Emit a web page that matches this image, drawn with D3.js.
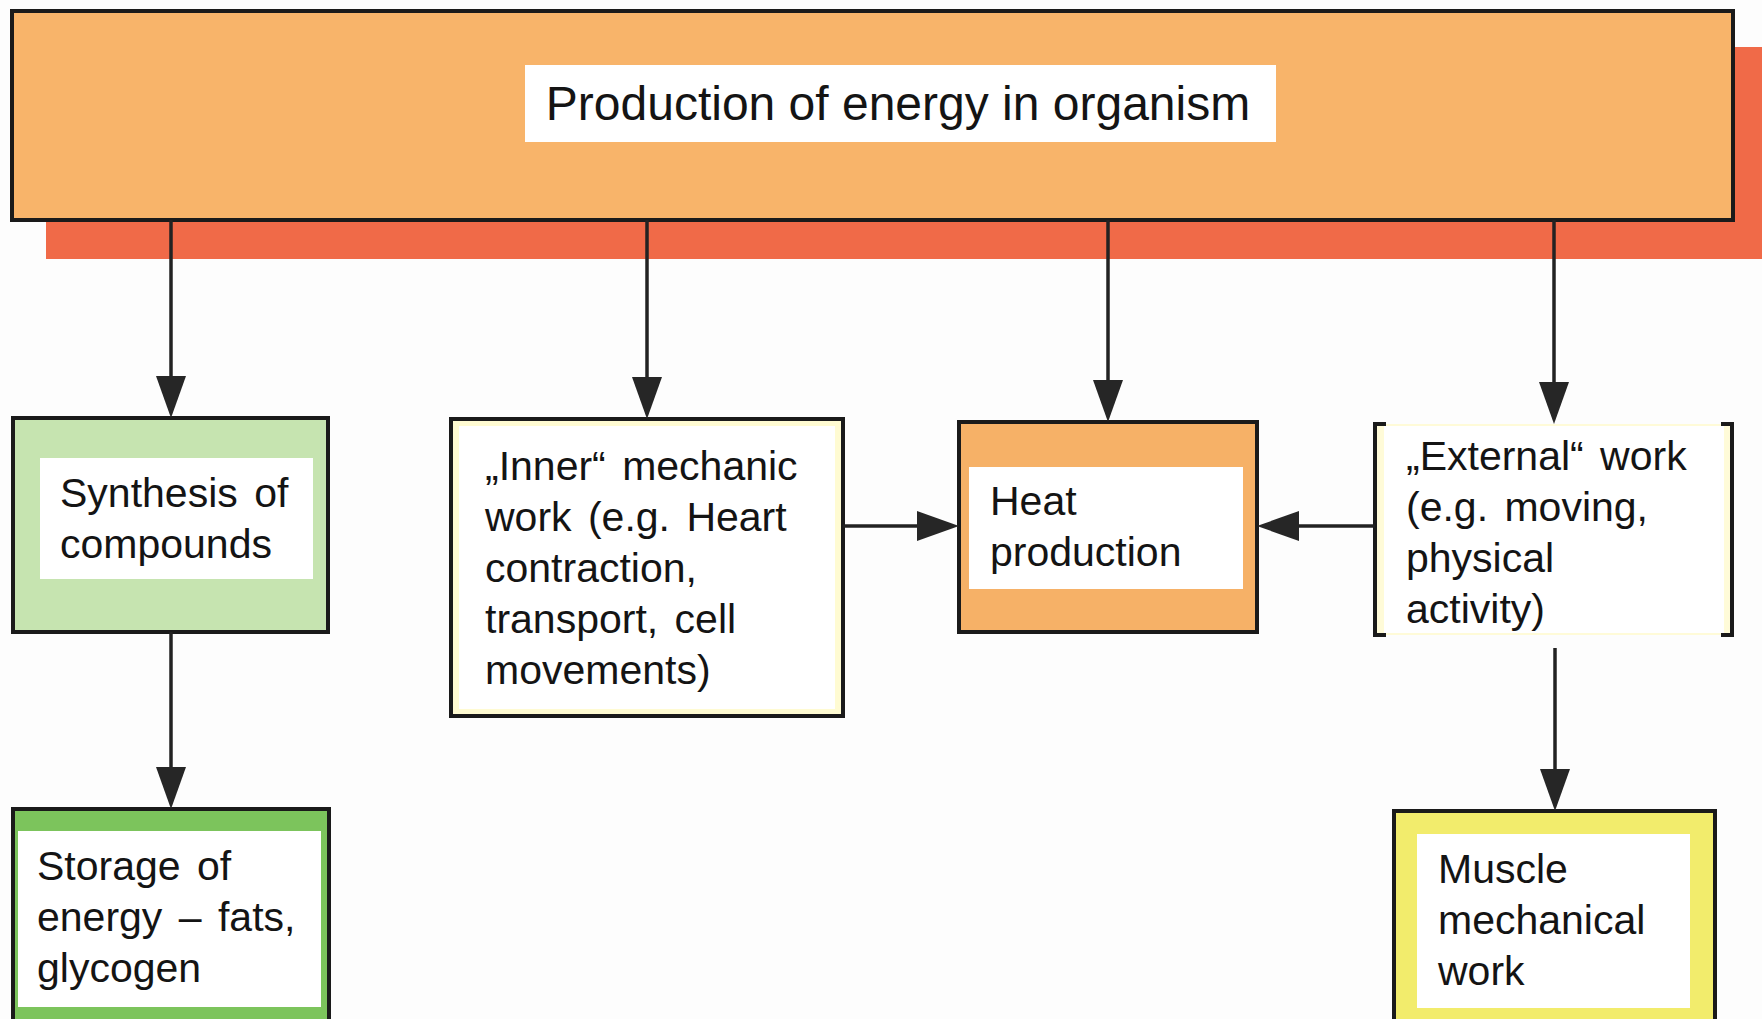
<!DOCTYPE html>
<html>
<head>
<meta charset="utf-8">
<script src="https://cdn.jsdelivr.net/npm/d3@7"></script>
<style>
  html, body { margin: 0; padding: 0; background: #fdfdfd; }
  svg { display: block; }
  .label { font-family: "Liberation Sans", Arial, sans-serif; fill: #141414; }
</style>
</head>
<body>
<div id="diagram"></div>
<script>
// node ids, labels and kinds
const nodeIds = ["top", "synth", "inner", "heat", "external", "storage", "muscle"];
const nodeLines = {
    top: ["Production of energy in organism"],
    synth: ["Synthesis of", "compounds"],
    inner: ["\u201EInner\u201C mechanic", "work (e.g. Heart", "contraction,", "transport, cell", "movements)"],
    heat: ["Heat", "production"],
    external: ["\u201EExternal\u201C work", "(e.g. moving,", "physical", "activity)"],
    storage: ["Storage of", "energy \u2013 fats,", "glycogen"],
    muscle: ["Muscle", "mechanical", "work"]
};
const nodeKinds = ["banner", "lightgreen", "paleyellow", "orange", "bracket", "green", "yellow"];

// arrows between nodes
const linkSources = ["top", "top", "top", "top", "synth", "external", "inner", "external"];
const linkTargets = ["synth", "inner", "heat", "external", "storage", "muscle", "heat", "heat"];

// layout (pixels of the 1762x1019 page)
const W = 1762, H = 1019;
const layout = {
    top:      {x: 12,   y: 11,  w: 1721, h: 209, inner: [525, 65, 751, 77], tx: 898, ty: 120, anchor: "middle", fs: 48},
    synth:    {x: 13,   y: 418, w: 315,  h: 214, inner: [40, 458, 273, 121], tx: 60,   ty: 507},
    inner:    {x: 451,  y: 419, w: 392,  h: 297, inner: [459, 426, 376, 283], tx: 485,  ty: 480},
    heat:     {x: 959,  y: 422, w: 298,  h: 210, inner: [969, 467, 274, 122], tx: 990,  ty: 515},
    external: {x: 1375, y: 424, w: 357,  h: 211, inner: [1384, 426, 340, 207], tx: 1406, ty: 470},
    storage:  {x: 13,   y: 809, w: 316,  h: 240, inner: [18, 831, 303, 176], tx: 37,   ty: 880},
    muscle:   {x: 1394, y: 811, w: 321,  h: 240, inner: [1417, 834, 273, 174], tx: 1438, ty: 883}
};
const fills = {
    banner: "#f8b46a", lightgreen: "#c6e4b0", paleyellow: "#fffbd2",
    orange: "#f6b167", bracket: "#fffbd8", green: "#7cc45c", yellow: "#f2ec6c"
};
const lineHeight = 51;
const fontSize = 41;

const svg = d3.select("#diagram")
    .append("svg")
    .attr("width", W)
    .attr("height", H);

// red shadow behind the banner
svg.append("rect")
    .attr("x", 46)
    .attr("y", 47)
    .attr("width", W)
    .attr("height", 212)
    .attr("fill", "#f06a48");

// draw boxes
nodeIds.forEach((id, i) => {
    const b = layout[id];
    const kind = nodeKinds[i];
    const g = svg.append("g").attr("class", "node");

    if (kind === "bracket") {
        // white box with thin yellow edge, open bracket sides
        g.append("rect")
            .attr("x", b.x).attr("y", b.y).attr("width", b.w).attr("height", b.h)
            .attr("fill", fills[kind]);
        g.append("rect")
            .attr("x", b.inner[0]).attr("y", b.inner[1]).attr("width", b.inner[2]).attr("height", b.inner[3])
            .attr("fill", "#ffffff");
        const t = 11;
        const left = `M${b.x + t},${b.y} H${b.x} V${b.y + b.h} H${b.x + t}`;
        const right = `M${b.x + b.w - t},${b.y} H${b.x + b.w} V${b.y + b.h} H${b.x + b.w - t}`;
        g.append("path").attr("d", left + " " + right)
            .attr("fill", "none").attr("stroke", "#1a1a1a").attr("stroke-width", 4);
    } else {
        g.append("rect")
            .attr("x", b.x).attr("y", b.y).attr("width", b.w).attr("height", b.h)
            .attr("fill", fills[kind])
            .attr("stroke", "#1a1a1a")
            .attr("stroke-width", 4);
        g.append("rect")
            .attr("x", b.inner[0]).attr("y", b.inner[1]).attr("width", b.inner[2]).attr("height", b.inner[3])
            .attr("fill", "#ffffff");
    }

    // label lines
    const text = g.append("text")
        .attr("class", "label")
        .attr("x", b.tx)
        .attr("y", b.ty)
        .attr("text-anchor", b.anchor || "start")
        .style("font-size", (b.fs || fontSize) + "px")
        .style("word-spacing", id === "top" ? "0px" : "5px");
    text.selectAll("tspan")
        .data(nodeLines[id])
        .join("tspan")
        .attr("x", b.tx)
        .attr("dy", (d, j) => j === 0 ? 0 : lineHeight)
        .text(d => d);
});

// arrow geometry: start/end points for each link
function anchors(s, t) {
    const a = layout[s], b = layout[t];
    if (s === "top") {
        const x = {synth: 171, inner: 647, heat: 1108, external: 1554}[t];
        return [[x, a.y + a.h], [x, b.y]];
    }
    if (t === "heat") {
        const y = 526;
        return a.x < b.x ? [[a.x + a.w, y], [b.x, y]] : [[a.x, y], [b.x + b.w, y]];
    }
    const x = s === "synth" ? 171 : 1555;
    const y0 = s === "external" ? a.y + a.h + 13 : a.y + a.h;
    return [[x, y0], [x, b.y]];
}

const line = d3.line();
const headLen = 42, headHalf = 15;

linkSources.forEach((s, i) => {
    const [p0, p1] = anchors(s, linkTargets[i]);
    const dx = p1[0] - p0[0], dy = p1[1] - p0[1];
    const len = Math.hypot(dx, dy);
    const ux = dx / len, uy = dy / len;
    const base = [p1[0] - ux * headLen, p1[1] - uy * headLen];

    svg.append("path")
        .attr("d", line([p0, base]))
        .attr("stroke", "#222")
        .attr("stroke-width", 3.5)
        .attr("fill", "none");

    svg.append("path")
        .attr("d", line([
            p1,
            [base[0] - uy * headHalf, base[1] + ux * headHalf],
            [base[0] + uy * headHalf, base[1] - ux * headHalf]
        ]) + "Z")
        .attr("fill", "#262626");
});
</script>
</body>
</html>
